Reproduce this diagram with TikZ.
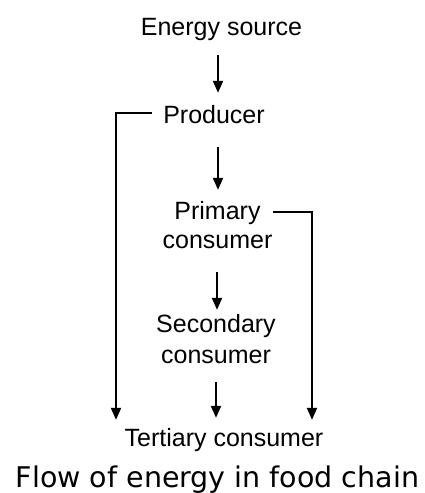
\documentclass[tikz,border=0pt]{standalone}
\usepackage{fontspec}
\setmainfont{Liberation Sans}
\newfontfamily\capfont{DejaVu Sans}
\usetikzlibrary{arrows.meta}
\begin{document}
\begin{tikzpicture}[x=1pt,y=-1pt,
  lbl/.style={font=\fontsize{25}{29}\selectfont, inner sep=0pt, text height=18pt, text depth=6pt, anchor=base},
  arr/.style={line width=2pt, -{Triangle[length=12pt,width=10pt]}},
  bracket/.style={line width=2pt, -{Triangle[length=12pt,width=10pt]}}]
\useasboundingbox (0,0) rectangle (424,493);
\node[lbl] (src) at (221.5,35) {Energy source};
\node[lbl] (prod) at (214,123) {Producer};
\node[lbl] (prim) at (217.5,219) {Primary};
\node[lbl] (primc) at (217.5,248) {consumer};
\node[lbl] (sec) at (216,332) {Secondary};
\node[lbl] (secc) at (216,363) {consumer};
\node[lbl] (tert) at (224,446) {Tertiary consumer};
\node[font=\capfont\fontsize{28.5}{32}\selectfont, inner sep=0pt, anchor=base] (cap) at (217.5,487) {Flow of energy in food chain};
\coordinate (x1) at (218,0);
\coordinate (x3) at (217,0);
\coordinate (x4) at (216,0);
\coordinate (lx) at (116,0);
\coordinate (rx) at (312,0);
\draw[arr, shorten <=14pt, shorten >=12pt] (src.south -| x1) -- (prod.north -| x1);
\draw[arr, shorten <=18pt, shorten >=11pt] (prod.south -| x1) -- (prim.north -| x1);
\draw[arr, shorten <=18pt, shorten >=4pt] (primc.south -| x3) -- (sec.north -| x3);
\draw[arr, shorten <=13pt, shorten >=10pt] (secc.south -| x4) -- (tert.north -| x4);
\draw[bracket, shorten >=8pt] ([xshift=-11pt,yshift=4pt]prod.west) -| (lx |- tert.north);
\draw[bracket, shorten >=8pt] ([xshift=12.5pt,yshift=1pt]prim.east) -| (rx |- tert.north);
\end{tikzpicture}
\end{document}
